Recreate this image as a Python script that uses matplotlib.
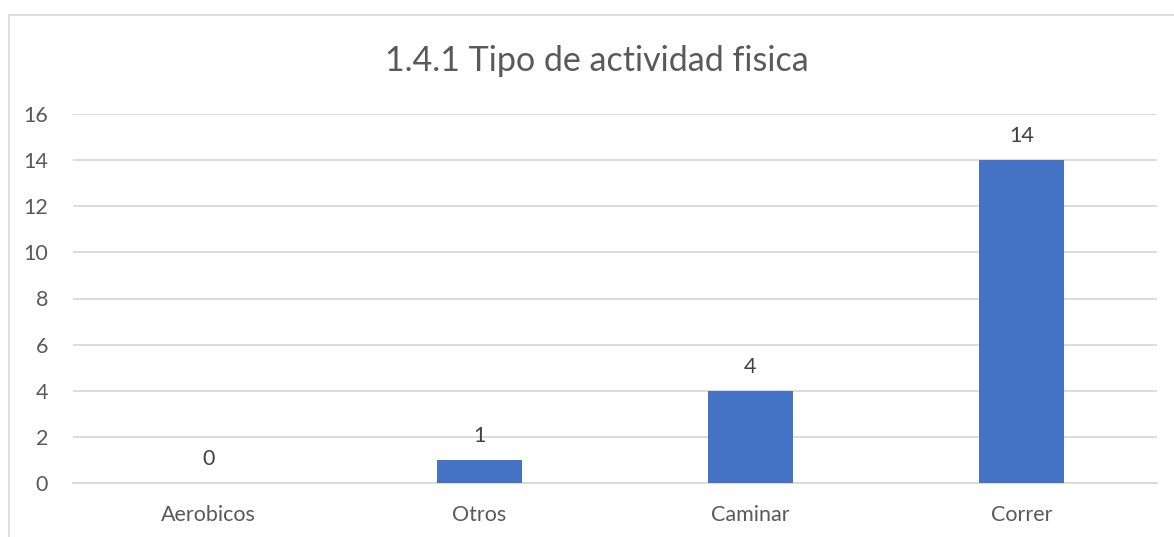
import matplotlib.pyplot as plt
from matplotlib.lines import Line2D

categories = ["Aerobicos", "Otros", "Caminar", "Correr"]
values = [0, 1, 4, 14]
y_ticks = [0, 2, 4, 6, 8, 10, 12, 14, 16]
title = "1.4.1 Tipo de actividad fisica"

text_color = "#595959"
plt.rcParams["font.family"] = ["Lato", "DejaVu Sans"]

W, H = 1174, 537
fig = plt.figure(figsize=(W / 100, H / 100), dpi=100)
ax = fig.add_axes([73 / W, 1 - 483 / H, (1157 - 73) / W, (483 - 114) / H])

x = range(len(categories))
bars = ax.bar(x, values, width=0.315, color="#4472C4", zorder=3)

ax.set_ylim(0, 16)
ax.set_xlim(-0.5, len(categories) - 0.5)
ax.set_yticks(y_ticks)
ax.set_yticklabels([str(t) for t in y_ticks], fontsize=15.5, color=text_color)
ax.set_xticks(list(x))
ax.set_xticklabels(categories, fontsize=15.5, color=text_color)
ax.tick_params(length=0)
ax.tick_params(axis="y", pad=18)
ax.tick_params(axis="x", pad=16)

ax.grid(axis="y", color="#D9D9D9", linewidth=1.3, zorder=0)
for side in ["top", "right", "left"]:
    ax.spines[side].set_visible(False)
ax.spines["bottom"].set_color("#D9D9D9")
ax.spines["bottom"].set_linewidth(1.3)

for rect, v in zip(bars, values):
    ax.annotate(str(v), (rect.get_x() + rect.get_width() / 2, v),
                xytext=(0, 10), textcoords="offset points",
                ha="center", va="bottom", fontsize=15.5, color="#404040")

fig.text(597 / W, 1 - 61 / H, title, ha="center", va="center",
         fontsize=24.5, color=text_color)

# chart area border (left and top only are visible in the crop)
fig.add_artist(Line2D([8.5 / W, 8.5 / W], [0, 1 - 15 / H], transform=fig.transFigure,
                      color="#D9D9D9", linewidth=1.2))
fig.add_artist(Line2D([8.5 / W, 1], [1 - 15 / H, 1 - 15 / H], transform=fig.transFigure,
                      color="#D9D9D9", linewidth=1.2))

fig.savefig("out.png", dpi=100)
